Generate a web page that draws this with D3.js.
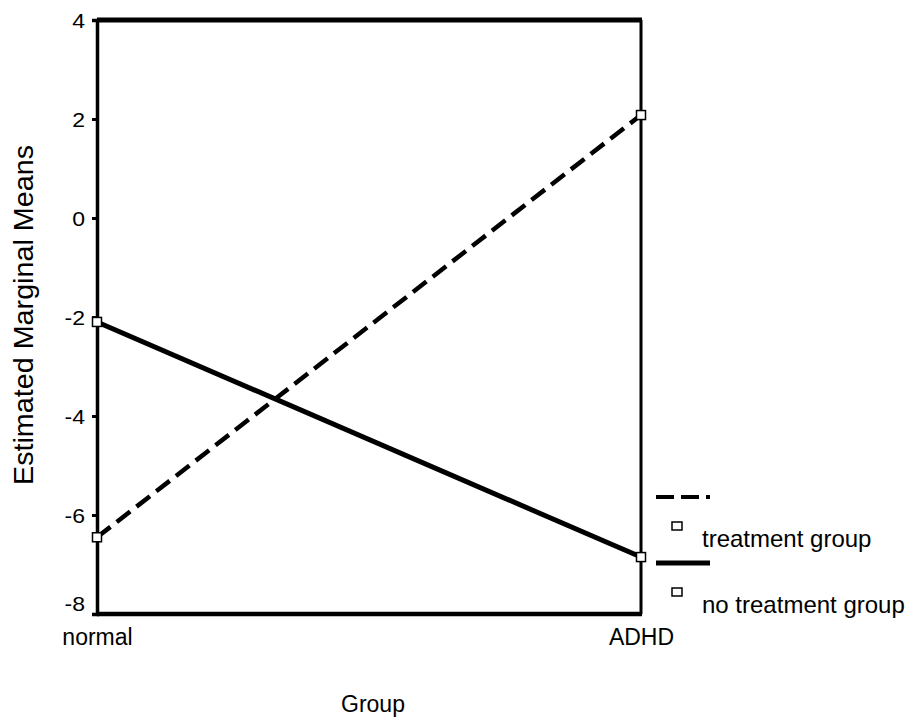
<!DOCTYPE html>
<html><head><meta charset="utf-8">
<script src="https://cdn.jsdelivr.net/npm/d3@7"></script>
<style>body{margin:0;background:#fff}svg{display:block}text{font-family:"Liberation Sans",Arial,sans-serif;fill:#000}</style>
</head><body><svg id="c" width="911" height="724"></svg>
<script>
const groups = ["normal", "ADHD"];
const treatment = [-6.45, 2.08];
const noTreatment = [-2.1, -6.85];
const yTicks = [4, 2, 0, -2, -4, -6, -8];
const seriesNames = ["treatment group", "no treatment group"];

const svg = d3.select("#c");
const L = 97, R = 641, T = 20, B = 614;
const x = d3.scalePoint().domain(groups).range([L, R]);
const y = d3.scaleLinear().domain([-8, 4]).range([B, T]);

// frame
svg.append("line").attr("x1", L).attr("x2", R + 1).attr("y1", T).attr("y2", T).attr("stroke", "#000").attr("stroke-width", 5);
svg.append("line").attr("x1", L).attr("x2", R + 1).attr("y1", B).attr("y2", B).attr("stroke", "#000").attr("stroke-width", 4.5);
svg.append("line").attr("x1", R).attr("x2", R).attr("y1", T).attr("y2", B).attr("stroke", "#000").attr("stroke-width", 3);

const yAxis = d3.axisLeft(y).tickValues(yTicks).tickSize(5).tickPadding(7).tickFormat(d => String(d));
const gy = svg.append("g").attr("transform", `translate(${L},0)`).call(yAxis);
gy.select(".domain").attr("stroke-width", 3.5);
gy.selectAll(".tick line").attr("stroke-width", 3);
gy.selectAll(".tick text").style("font-size", "20px").attr("dy", "0.35em")
  .attr("transform", d => d === -8 ? "translate(0,-11)" : null)
  .each(function () { const w = this.getComputedTextLength(); d3.select(this).attr("textLength", w * 1.15).attr("lengthAdjust", "spacingAndGlyphs"); });

const xAxis = d3.axisBottom(x).tickSize(0).tickPadding(0);
const gx = svg.append("g").attr("transform", `translate(0,${B})`).call(xAxis);
gx.select(".domain").remove();
gx.selectAll(".tick text").style("font-size", "23px").attr("dy", null).attr("y", 31);

svg.append("text").attr("x", 373).attr("y", 712).attr("text-anchor", "middle").style("font-size", "23px").text("Group");
svg.append("text").attr("transform", "translate(33,315) rotate(-90)").attr("text-anchor", "middle").style("font-size", "28px")
  .attr("textLength", 340).attr("lengthAdjust", "spacingAndGlyphs").text("Estimated Marginal Means");

const line = d3.line().x((d, i) => x(groups[i])).y(d => y(d));
svg.append("path").datum(treatment).attr("d", line).attr("fill", "none").attr("stroke", "#000").attr("stroke-width", 4.5).attr("stroke-dasharray", "17,8");
svg.append("path").datum(noTreatment).attr("d", line).attr("fill", "none").attr("stroke", "#000").attr("stroke-width", 5);

[treatment, noTreatment].forEach(s => {
  svg.selectAll(null).data(s).enter().append("rect")
    .attr("x", (d, i) => x(groups[i]) - 4.5).attr("y", d => y(d) - 4.5)
    .attr("width", 9).attr("height", 9).attr("fill", "#fff").attr("stroke", "#000").attr("stroke-width", 1.5);
});

// legend
const lg = svg.append("g");
const legY = [497, 563];
lg.append("line").attr("x1", 656).attr("x2", 710).attr("y1", legY[0]).attr("y2", legY[0]).attr("stroke", "#000").attr("stroke-width", 4).attr("stroke-dasharray", "18,7");
lg.append("line").attr("x1", 656).attr("x2", 710).attr("y1", legY[1]).attr("y2", legY[1]).attr("stroke", "#000").attr("stroke-width", 5);
seriesNames.forEach((n, i) => {
  lg.append("rect").attr("x", 672).attr("y", legY[i] + 25).attr("width", 10).attr("height", 8).attr("fill", "#fff").attr("stroke", "#000").attr("stroke-width", 1.5);
  lg.append("text").attr("x", 702).attr("y", legY[i] + 50).style("font-size", "24px").text(n);
});
</script></body></html>
